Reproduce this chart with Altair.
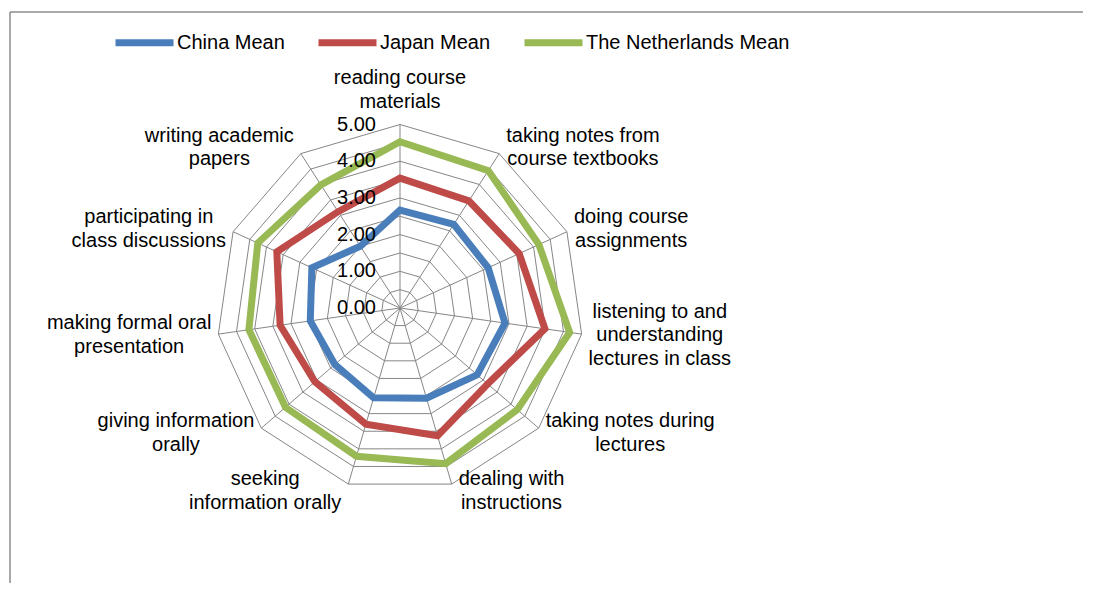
import math
import altair as alt
import pandas as pd

# ---------------- data ----------------
categories = [
    "reading course\nmaterials",
    "taking notes from\ncourse textbooks",
    "doing course\nassignments",
    "listening to and\nunderstanding\nlectures in class",
    "taking notes during\nlectures",
    "dealing with\ninstructions",
    "seeking\ninformation orally",
    "giving information\norally",
    "making formal oral\npresentation",
    "participating in\nclass discussions",
    "writing academic\npapers",
]
series = ["China Mean", "Japan Mean", "The Netherlands Mean"]
china = [2.67, 2.71, 2.64, 2.89, 2.78, 2.56, 2.55, 2.35, 2.47, 2.64, 2.00]
japan = [3.54, 3.47, 3.57, 3.99, 3.16, 3.63, 3.30, 3.07, 3.30, 3.69, 3.12]
netherlands = [4.53, 4.45, 4.16, 4.67, 4.23, 4.42, 4.21, 4.13, 4.16, 4.26, 3.99]
tick_values = [0, 1, 2, 3, 4, 5]
grid_levels = [0.5, 1.0, 1.5, 2.0, 2.5, 3.0, 3.5, 4.0, 4.5, 5.0]
colors = ["#4A7EBB", "#BE4B48", "#98B954"]

# ---------------- layout ----------------
FONT = "Liberation Sans"
FS = 20
LH = 23.5
W, H = 1075, 575
CX, CY = 392, 300          # centre of radar in plot pixels
U = 36.7                   # pixels per unit
N = len(categories)
MAXV = max(tick_values)

# Arial / Liberation Sans advance widths (per 1000 em)
AW = {" ": 278, "a": 556, "b": 556, "c": 500, "d": 556, "e": 556, "f": 278, "g": 556,
      "h": 556, "i": 222, "j": 222, "k": 500, "l": 222, "m": 833, "n": 556, "o": 556,
      "p": 556, "q": 556, "r": 333, "s": 500, "t": 278, "u": 556, "v": 500, "w": 722,
      "x": 500, "y": 500, "z": 500}


def text_w(s):
    return sum(AW.get(ch, 556) for ch in s) / 1000.0 * FS


rows = []
for name, vals in zip(series, [china, japan, netherlands]):
    for k, v in enumerate(vals):
        rows.append({"series": name, "k": k, "value": v})
df_series = pd.DataFrame(rows)

df_axes = pd.DataFrame({
    "k": list(range(N)),
    "label": categories,
    "halfw": [max(text_w(l) for l in c.split("\n")) / 2 for c in categories],
    "nlines": [len(c.split("\n")) for c in categories],
})

df_grid = pd.DataFrame([{"level": lv, "k": k} for lv in grid_levels for k in range(N)])
df_ticks = pd.DataFrame({"value": tick_values})

xs = alt.Scale(domain=[-CX / U, (W - CX) / U], nice=False, zero=False)
ys = alt.Scale(domain=[-(H - CY) / U, CY / U], nice=False, zero=False)
X = lambda f: alt.X(f, scale=xs, axis=None)
Y = lambda f: alt.Y(f, scale=ys, axis=None)
ANG = f"2*PI*datum.k/{N}"
GRID = "#868686"

grid = alt.Chart(df_grid).transform_calculate(
    gx=f"datum.level*sin({ANG})", gy=f"datum.level*cos({ANG})"
).mark_line(interpolate="linear-closed", color=GRID, strokeWidth=1).encode(
    x=X("gx:Q"), y=Y("gy:Q"), detail="level:N", order="k:Q"
)

spokes = alt.Chart(df_axes).transform_calculate(
    x0="0", y0="0", x1=f"{MAXV}*sin({ANG})", y1=f"{MAXV}*cos({ANG})"
).mark_rule(color=GRID, strokeWidth=1).encode(
    x=X("x0:Q"), y=Y("y0:Q"), x2="x1:Q", y2="y1:Q"
)

lines = alt.Chart(df_series).transform_calculate(
    px=f"datum.value*sin({ANG})", py=f"datum.value*cos({ANG})"
).mark_line(interpolate="linear-closed", strokeWidth=7).encode(
    x=X("px:Q"), y=Y("py:Q"),
    color=alt.Color(
        "series:N",
        scale=alt.Scale(domain=series, range=colors),
        sort=series,
        legend=alt.Legend(
            orient="none", legendX=104, legendY=2, direction="horizontal",
            title=None, symbolType="stroke", symbolSize=58 * 58,
            symbolStrokeWidth=7, labelFontSize=FS, labelFont=FONT,
            labelColor="black", columnPadding=19, labelOffset=0, padding=0,
            labelLimit=0,
        ),
    ),
    order="k:Q",
)

ticks = alt.Chart(df_ticks).transform_calculate(zero="0").mark_text(
    align="right", baseline="middle", dx=-24, fontSize=FS, font=FONT, color="black"
).encode(x=X("zero:Q"), y=Y("value:Q"), text=alt.Text("value:Q", format=".2f"))

# first line of each block is placed so that the whole block is centred
labels = alt.Chart(df_axes).transform_calculate(
    s=f"sin({ANG})", c=f"cos({ANG})"
).transform_calculate(
    lx=f"{MAXV}*datum.s + (abs(datum.s) < 0.05 ? 0 : (datum.s > 0 ? 1 : -1) * (7 + datum.halfw) / {U})",
    ly=(f"{MAXV}*datum.c + (abs(datum.s) < 0.05 ? (11 + datum.nlines*{LH}/2) / {U} : 7*datum.c/{U})"
        f" + (datum.nlines - 1)*{LH}/2/{U}"),
).mark_text(
    align="center", baseline="middle", lineBreak="\n", lineHeight=LH,
    fontSize=FS, font=FONT, color="black"
).encode(x=X("lx:Q"), y=Y("ly:Q"), text="label:N")

one = alt.Data(values=[{"a": 1}])
border_left = alt.Chart(one).mark_rule(color="#8c8c8c", strokeWidth=1.5).encode(
    x=alt.value(2), y=alt.value(4), y2=alt.value(H)
)
border_top = alt.Chart(one).mark_rule(color="#8c8c8c", strokeWidth=1.5).encode(
    x=alt.value(2), x2=alt.value(W), y=alt.value(4)
)

chart = alt.layer(
    border_left, border_top, grid, spokes, lines, ticks, labels
).properties(
    width=W, height=H, padding=0, autosize=alt.AutoSizeParams(type="none"),
    background="white",
).configure_view(stroke=None)

chart.save("out.html", embed_options={"renderer": "svg", "actions": False})
